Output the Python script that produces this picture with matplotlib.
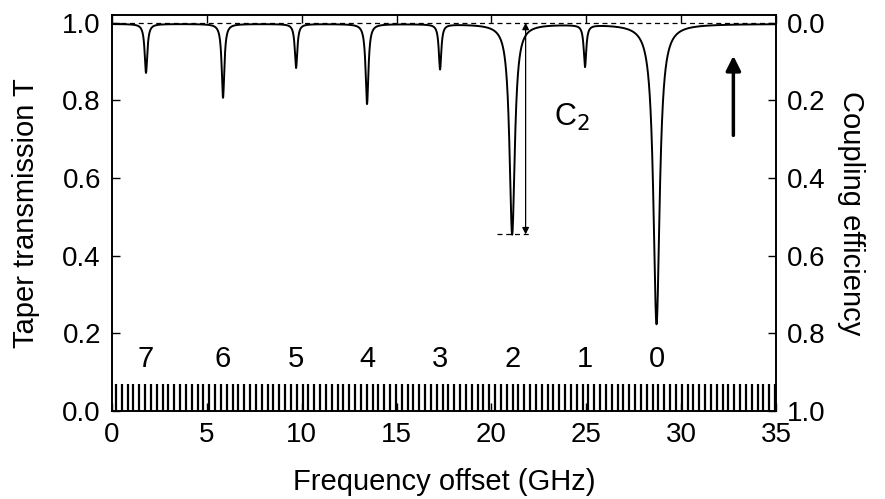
import numpy as np
import matplotlib
matplotlib.use("Agg")
import matplotlib.pyplot as plt

plt.rcParams["font.family"] = ["Liberation Sans", "DejaVu Sans"]
plt.rcParams["font.size"] = 20

# dips (GHz, minimum transmission, FWHM in GHz)
mode_labels = ["7", "6", "5", "4", "3", "2", "1", "0"]
dip_centers = [1.79, 5.85, 9.70, 13.44, 17.29, 21.09, 24.93, 28.70]
dip_min_T = [0.871, 0.807, 0.884, 0.791, 0.881, 0.455, 0.889, 0.224]
dip_widths = [0.17, 0.17, 0.16, 0.18, 0.16, 0.34, 0.16, 0.40]
baseline = 0.997

# reference frequency comb
comb_start = 0.2
comb_spacing = 0.3075
comb_height = 0.07

freq = np.linspace(0, 35, 8000)
trans = np.full_like(freq, baseline)
for c, tmin, w in zip(dip_centers, dip_min_T, dip_widths):
    depth = baseline - tmin
    trans -= depth / (1 + (2 * (freq - c) / w) ** 2)

fig = plt.figure(figsize=(8.85, 4.99), dpi=100)
ax = fig.add_axes([0.1266, 0.176, 0.7503, 0.794])

ax.plot(freq, trans, color="black", lw=1.4)
ax.axhline(1.0, color="black", lw=0.9, ls=(0, (4, 3)))

# comb lines at the bottom
comb = np.arange(comb_start, 35, comb_spacing)
ax.vlines(comb, 0, comb_height, color="black", lw=1.6)

# C2 coupling marker
c2_x = 21.8
ax.hlines(dip_min_T[5], 20.3, 22.1, color="black", lw=0.9, ls=(0, (4, 3)))
ax.annotate("", xy=(c2_x, dip_min_T[5]), xytext=(c2_x, 1.0),
            arrowprops=dict(arrowstyle="<|-|>", color="black", lw=0.9,
                            mutation_scale=10, shrinkA=0, shrinkB=0))
ax.text(23.3, 0.755, "C$_2$", fontsize=22, va="center", ha="left")

# big arrow on the right
ax.annotate("", xy=(32.75, 0.915), xytext=(32.75, 0.71),
            arrowprops=dict(arrowstyle="-|>", color="black", lw=2.5,
                            mutation_scale=22, shrinkA=0, shrinkB=0))

for lab, c in zip(mode_labels, dip_centers):
    ax.text(c, 0.135, lab, ha="center", va="center", fontsize=21)

ax.set_xlim(0, 35)
ax.set_ylim(0, 1.02)
ax.set_xticks(np.arange(0, 36, 5))
ax.set_yticks([0.0, 0.2, 0.4, 0.6, 0.8, 1.0])
ax.set_yticklabels(["0.0", "0.2", "0.4", "0.6", "0.8", "1.0"])
ax.tick_params(direction="in", top=True, length=6, width=1, pad=8)
ax.set_xlabel("Frequency offset (GHz)", fontsize=21, labelpad=14)
ax.set_ylabel("Taper transmission T", fontsize=21, labelpad=16)

ax2 = ax.twinx()
ax2.set_ylim(1, -0.02)
ax2.set_yticks([0.0, 0.2, 0.4, 0.6, 0.8, 1.0])
ax2.set_yticklabels(["0.0", "0.2", "0.4", "0.6", "0.8", "1.0"])
ax2.tick_params(direction="in", length=6, width=1, pad=8)
ax2.set_ylabel("Coupling efficiency", fontsize=21, rotation=-90, labelpad=28)

for a in (ax, ax2):
    for s in a.spines.values():
        s.set_linewidth(1.2)

fig.savefig("out.png", dpi=100)
